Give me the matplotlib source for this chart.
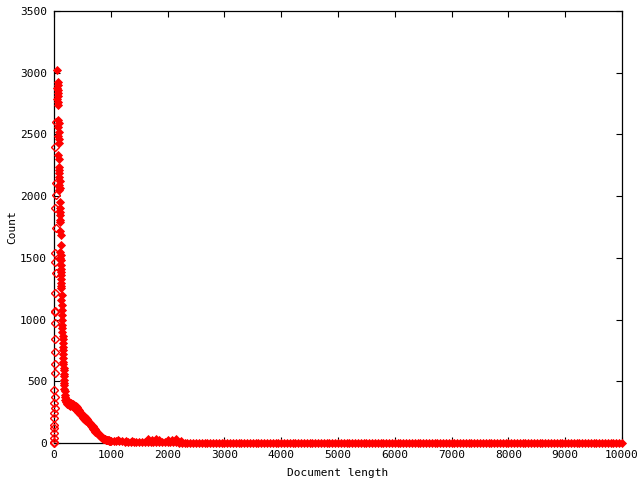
import numpy as np
import matplotlib
matplotlib.use("Agg")
import matplotlib.pyplot as plt

# very short documents (left column next to the y axis)
left_len = [30, 25, 35, 28, 20, 32, 24, 18, 30, 22, 26, 15, 20, 12, 16, 10, 14, 8, 12, 6, 10, 5, 8, 4, 6, 3, 4, 2, 1]
left_cnt = [2601, 2399, 2107, 2010, 1904, 1742, 1540, 1467, 1378, 1216, 1070, 1062, 972, 843, 737, 640, 567,
            430, 373, 324, 284, 243, 203, 146, 122, 81, 40, 8, 0]

# the peak
peak_len = [55, 62, 66, 58, 70, 64, 74, 60, 68, 78, 72, 80, 66, 84, 76, 88, 82, 70, 90, 86, 94, 80, 92, 98,
            96, 102, 88, 104, 100, 108, 106, 112, 110, 104, 116, 118, 114, 120, 108, 122, 124, 126, 122, 128,
            126, 130, 128, 132, 134, 132, 136, 138, 140, 142]
peak_cnt = [3022, 2925, 2900, 2880, 2860, 2835, 2810, 2790, 2765, 2740, 2617, 2590, 2560, 2520, 2490, 2460,
            2431, 2334, 2300, 2236, 2210, 2188, 2155, 2120, 2090, 2066, 2050, 1953, 1904, 1870, 1847, 1807,
            1791, 1720, 1685, 1604, 1548, 1523, 1500, 1483, 1442, 1410, 1386, 1361, 1330, 1300, 1270, 1256,
            1199, 1160, 1118, 1078, 1040, 997]

# steep drop after the peak
drop_len = [144, 146, 148, 150, 152, 154, 156, 158, 160, 162, 164, 166, 168, 170, 172, 174, 176, 178, 180,
            183, 186, 190, 195]
drop_cnt = [960, 930, 900, 870, 840, 810, 780, 750, 720, 690, 660, 640, 610, 590, 560, 540, 510, 490, 470,
            440, 420, 390, 370]

# shoulder and decline, every 10 words from 200 to 1000
desc_len = list(range(200, 1001, 10))
desc_cnt = [350, 335, 345, 320, 338, 312, 332, 308, 328, 300, 322, 298, 318, 292, 312, 288, 306, 280, 298, 272,
            288, 262, 276, 250, 264, 238, 252, 228, 240, 216, 230, 206, 220, 196, 210, 188, 200, 180, 192, 172,
            182, 162, 172, 150, 160, 138, 148, 126, 136, 114, 124, 102, 112, 92, 100, 82, 88, 72, 78, 62,
            68, 54, 58, 46, 50, 40, 42, 34, 36, 30, 32, 26, 28, 23, 25, 21, 22, 19, 20, 17, 18]

# long tail, every 50 words from 1050 to 10000
tail_len = list(range(1050, 10001, 50))
tail_cnt = [16, 15, 14, 13, 12, 12, 11, 10, 10, 9, 9, 8, 8, 7, 7, 7, 6, 6, 6, 5,
            5, 5, 5, 4, 4, 4, 4, 4, 3, 3, 3, 3, 3, 3, 3, 3, 2, 3, 2, 2,
            2, 2, 2, 2, 2, 2, 2, 2, 2, 2, 2, 1, 2, 2, 1, 2, 1, 2, 1, 1,
            1, 2, 1, 1, 1, 2, 1, 1, 1, 1, 1, 1, 2, 1, 1, 1, 1, 1, 1, 1,
            1, 1, 1, 1, 1, 0, 1, 1, 1, 1, 1, 1, 0, 1, 1, 1, 1, 0, 1, 1,
            1, 1, 0, 1, 1, 1, 0, 1, 1, 1, 0, 1, 1, 0, 1, 1, 0, 1, 1, 0,
            1, 0, 1, 1, 0, 1, 1, 0, 1, 0, 1, 0, 1, 1, 0, 1, 0, 0, 1, 0,
            1, 0, 1, 0, 1, 0, 0, 1, 0, 1, 0, 0, 1, 0, 1, 0, 0, 1, 0, 0,
            0, 1, 0, 0, 1, 0, 1, 0, 0, 1, 0, 0, 1, 0, 0, 1, 0, 0, 0, 1]

# a few stray higher counts in the tail
stray_len = [1120, 1260, 1380, 1650, 1720, 1800, 1850, 2000, 2080, 2150, 2230]
stray_cnt = [24, 20, 18, 30, 25, 35, 22, 28, 24, 30, 20]

filled_len = peak_len + drop_len + desc_len + tail_len + stray_len
filled_cnt = peak_cnt + drop_cnt + desc_cnt + tail_cnt + stray_cnt

plt.rcParams['font.family'] = ['DejaVu Sans Mono']
fig = plt.figure(figsize=(6.4, 4.8), dpi=100)
ax = fig.add_axes([54 / 640, 1 - 443 / 480, 568 / 640, 432 / 480])

ax.plot(left_len, left_cnt, linestyle="none", marker="D", markersize=3.8, markerfacecolor="none",
        markeredgecolor="red", markeredgewidth=1.0, clip_on=False, zorder=3)
ax.plot(filled_len, filled_cnt, linestyle="none", marker="D", markersize=4.2, color="red",
        markeredgewidth=0.6, clip_on=False, zorder=3)

ax.set_xlim(0, 10000)
ax.set_ylim(0, 3500)
ax.set_xticks(np.arange(0, 10001, 1000))
ax.set_yticks(np.arange(0, 3501, 500))
ax.tick_params(direction="in", length=4, width=0.8, top=True, right=True, labelsize=8, pad=5)
for s in ax.spines.values():
    s.set_linewidth(0.9)
ax.set_xlabel("Document length", fontsize=8, labelpad=6)
ax.set_ylabel("Count", fontsize=8, labelpad=2)

fig.savefig("out.png", dpi=100)
